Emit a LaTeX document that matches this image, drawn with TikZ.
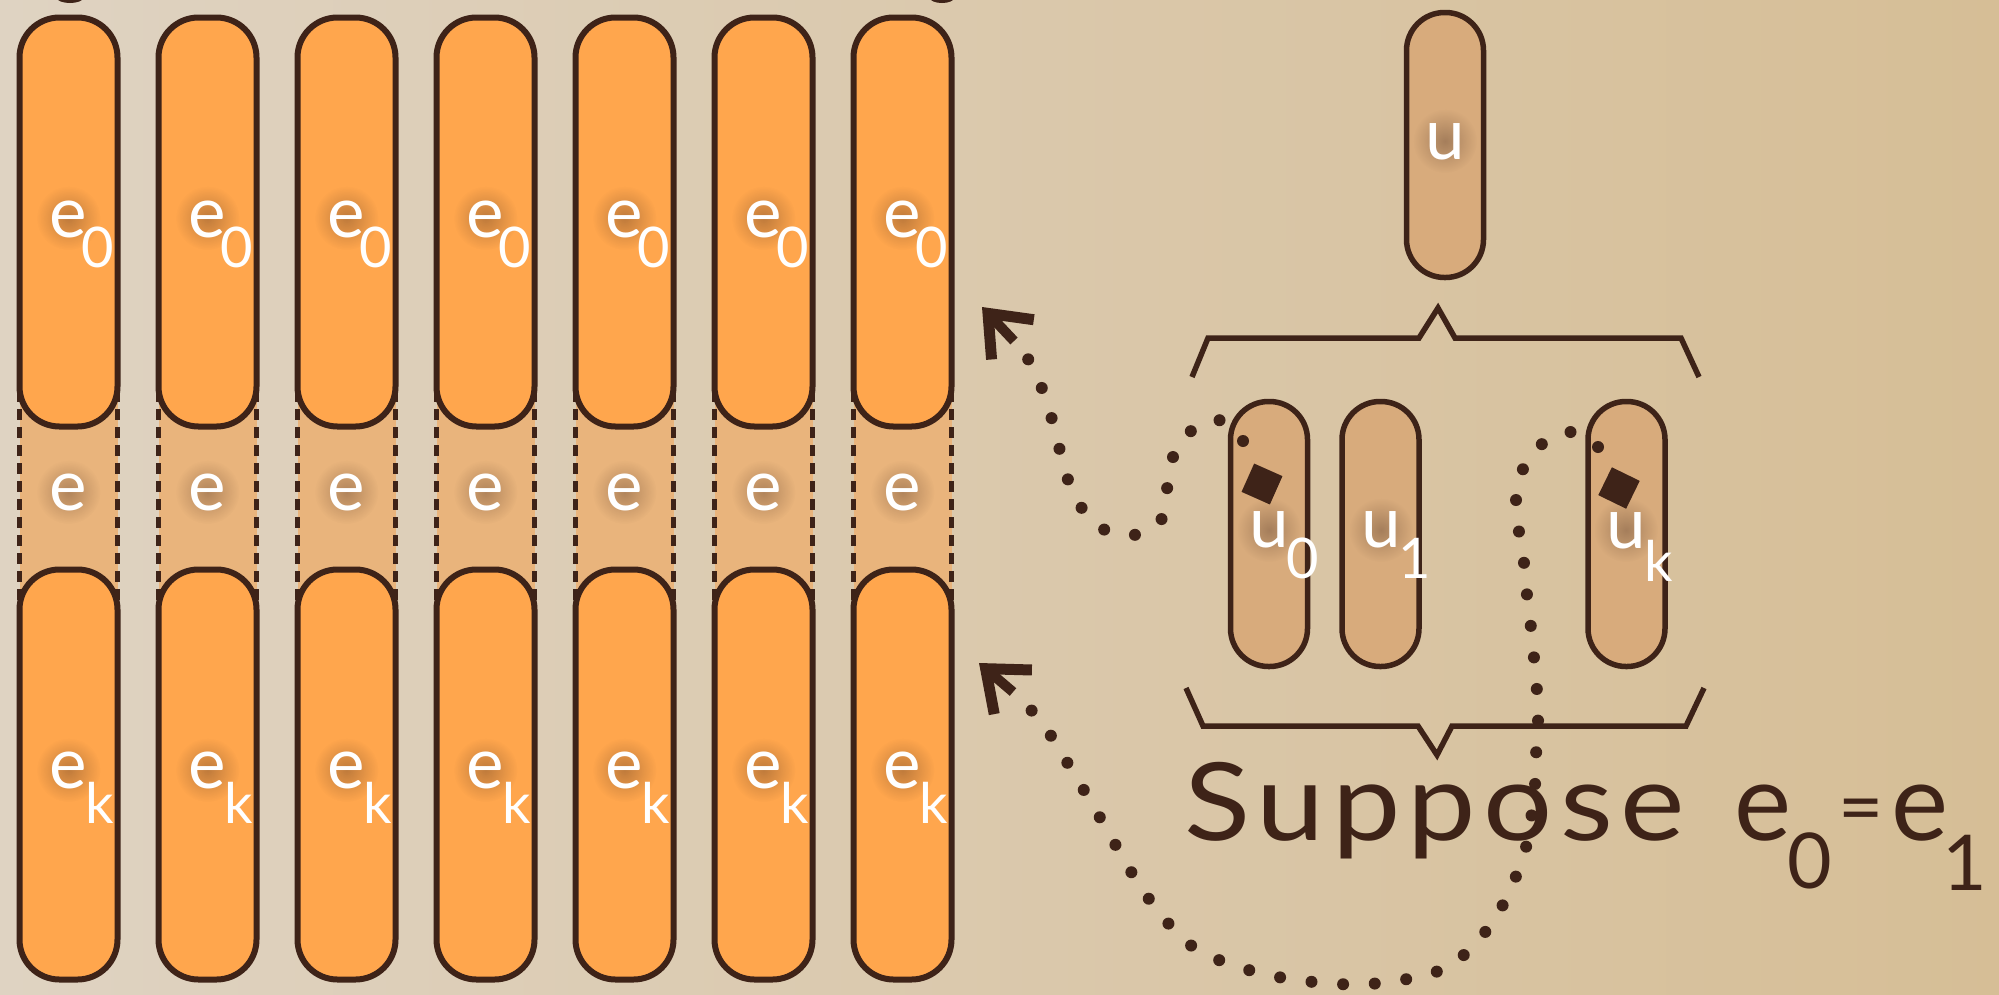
\documentclass[tikz,border=0pt]{standalone}
\usepackage{fontspec}
\usepackage{graphicx}
\setmainfont{Lato}
\newfontfamily\supfam[LetterSpace=6]{Lato}
\usetikzlibrary{arrows.meta,fadings}
\definecolor{bgL}{RGB}{223,211,194}
\definecolor{bgM}{RGB}{220,204,180}
\definecolor{bgR}{RGB}{214,190,150}
\definecolor{ink}{RGB}{62,35,24}
\definecolor{orng}{RGB}{255,166,77}
\definecolor{bandc}{RGB}{233,180,124}
\definecolor{tanc}{RGB}{216,171,124}
\tikzfading[name=glowfade, inner color=transparent!40, outer color=transparent!100]
\newcommand{\lblfont}{\fontsize{71pt}{71pt}\selectfont}
\newcommand{\sblfont}{\fontsize{56pt}{56pt}\selectfont}
\newcommand{\bigtxt}{\fontsize{108pt}{108pt}\selectfont}
\newcommand{\bigsub}{\fontsize{77pt}{77pt}\selectfont}
\begin{document}
\begin{tikzpicture}[x=1pt,y=-1pt,
  ebox/.style={draw=ink, line width=6pt, fill=orng, rounded corners=40pt, minimum width=98pt, inner sep=0pt},
  ubox/.style={draw=ink, line width=5.5pt, fill=tanc, rounded corners=38pt, minimum width=77pt, minimum height=265pt, inner sep=0pt},
  lab/.style={text=white, inner sep=0pt, font=\lblfont, anchor=base},
  sublab/.style={text=white, inner sep=0pt, font=\sblfont, anchor=base west},
  glow/.style={fill=ink, opacity=0.55, path fading=glowfade},
  dashside/.style={draw=ink, line width=5pt, dash pattern=on 11pt off 7pt},
  dotline/.style={draw=ink, line width=12pt, line cap=round, dash pattern=on 0pt off 31.7pt},
  arrowstem/.style={draw=ink, line width=10pt, -{Straight Barb[length=36pt,width=58pt,line width=11pt]}},
  brace/.style={draw=ink, line width=5.5pt, line join=miter},
  diam/.style={fill=ink, minimum size=31pt, inner sep=0pt}
]
\useasboundingbox (0,0) rectangle (1999,994);
\begin{scope}
\clip (0,0) rectangle (1999,994);
\shade[left color=bgL, middle color=bgM, right color=bgR] (0,0) rectangle (1999,994);
\fill[ink] (70,-2) ellipse [x radius=13pt, y radius=5pt];
\fill[ink] (942,-2) ellipse [x radius=12pt, y radius=5pt];
\end{scope}

% columns
\foreach \i in {0,...,6}{
  \pgfmathsetmacro\cx{68.5+139*\i}
  \fill[bandc] (\cx-49,380) rectangle (\cx+49,615);
  \draw[dashside] (\cx-49,391) -- (\cx-49,605);
  \draw[dashside] (\cx+49,391) -- (\cx+49,605);
  \node[ebox, minimum height=409pt] (top\i) at (\cx,222) {};
  \node[ebox, minimum height=410pt] (bot\i) at (\cx,774.5) {};
  \fill[glow] (\cx,218) circle[radius=32pt];
  \fill[glow] (\cx,492) circle[radius=32pt];
  \fill[glow] (\cx,770) circle[radius=32pt];
  \node[lab] (et\i) at (\cx,237) {e};
  \node[sublab] (ets\i) at ([xshift=-6pt,yshift=-30pt]et\i.base east) {0};
  \node[lab] (em\i) at (\cx,510) {e};
  \node[lab] (eb\i) at (\cx,788) {e};
  \node[sublab] (ebs\i) at ([xshift=-2pt,yshift=-35pt]eb\i.base east) {k};
}

% u boxes
\node[ubox] (u) at (1445,145) {};
\node[ubox] (u0) at (1269,534) {};
\node[ubox] (u1) at (1380.5,534) {};
\node[ubox] (uk) at (1626.5,534) {};
\fill[glow] (1445,141) circle[radius=32pt];
\fill[glow] (1269,530) circle[radius=32pt];
\fill[glow] (1381,530) circle[radius=32pt];
\fill[glow] (1626,530) circle[radius=32pt];
\node[lab] (ul) at (1445,159) {u};
\node[lab] (u0l) at (1269,547) {u};
\node[sublab] (u0s) at ([xshift=-3pt,yshift=-31pt]u0l.base east) {0};
\node[lab] (u1l) at (1381,547) {u};
\node[sublab] (u1s) at ([xshift=-3pt,yshift=-31pt]u1l.base east) {1};
\node[lab] (ukl) at (1626,548) {u};
\node[sublab] (uks) at ([xshift=-2pt,yshift=-33pt]ukl.base east) {k};

% diamonds
\node[diam, rotate=-24] (d0) at (1262,484) {};
\node[diam, rotate=-26] (dk) at (1619,488) {};

% braces
\draw[brace] (1192,377) -- (1208,338) -- (1419,338) -- (1438,308) -- (1455,338) -- (1681,338) -- (1699,377);
\draw[brace] (1186,688) -- (1203,726) -- (1418,726) -- (1437,755) -- (1452,726) -- (1686,726) -- (1704,688);

% dotted connectors
\coordinate (p1s) at (1243,441);
\coordinate (p1e) at (1027,357);
\coordinate (a1b) at (1014,341);
\coordinate (a1t) at (982,307);
\draw[dotline] plot[smooth, tension=0.6] coordinates {(p1s) (1219,420) (1191,431) (1173,457) (1167,489) (1161,520) (1134,535) (1103,529) (1081,507) (1067,477) (1059,447) (1051,416) (1041,386) (p1e)};
\draw[arrowstem] (a1b) -- (a1t);

\coordinate (p2s) at (1598,447);
\coordinate (p2e) at (1025,703);
\coordinate (a2b) at (1013,692);
\coordinate (a2t) at (979,663);
\draw[dotline] plot[smooth, tension=0.6] coordinates {(p2s) (1571,432) (1542,444) (1523,469) (1516,500) (1519,532) (1524,563) (1527,595) (1531,628) (1534,658) (1537,692) (1538,722) (1536,755) (1535,785) (1531,819) (1525,851) (1514,881) (1500,910) (1482,936) (1460,958) (1431,974) (1401,980) (1369,984) (1337,984) (1305,981) (1273,976) (1242,968) (1212,957) (1185,941) (1163,917) (1144,892) (1127,865) (1111,837) (1095,809) (1079,782) (1062,754) (1045,727) (p2e)};
\draw[arrowstem] (a2b) -- (a2t);

% caption
\node[anchor=base west, text=ink, inner sep=0pt, font=\bigtxt] (sup) at (1184,840)
  {\scalebox{1.13}[1]{\supfam Suppose}\hspace{50pt}e\kern-4pt\raisebox{-48pt}{\bigsub 0}\kern6pt\raisebox{6pt}{\fontsize{78pt}{78pt}\selectfont =}\kern8pt e\kern-6pt\raisebox{-50pt}{\bigsub 1}};
\end{tikzpicture}
\end{document}
